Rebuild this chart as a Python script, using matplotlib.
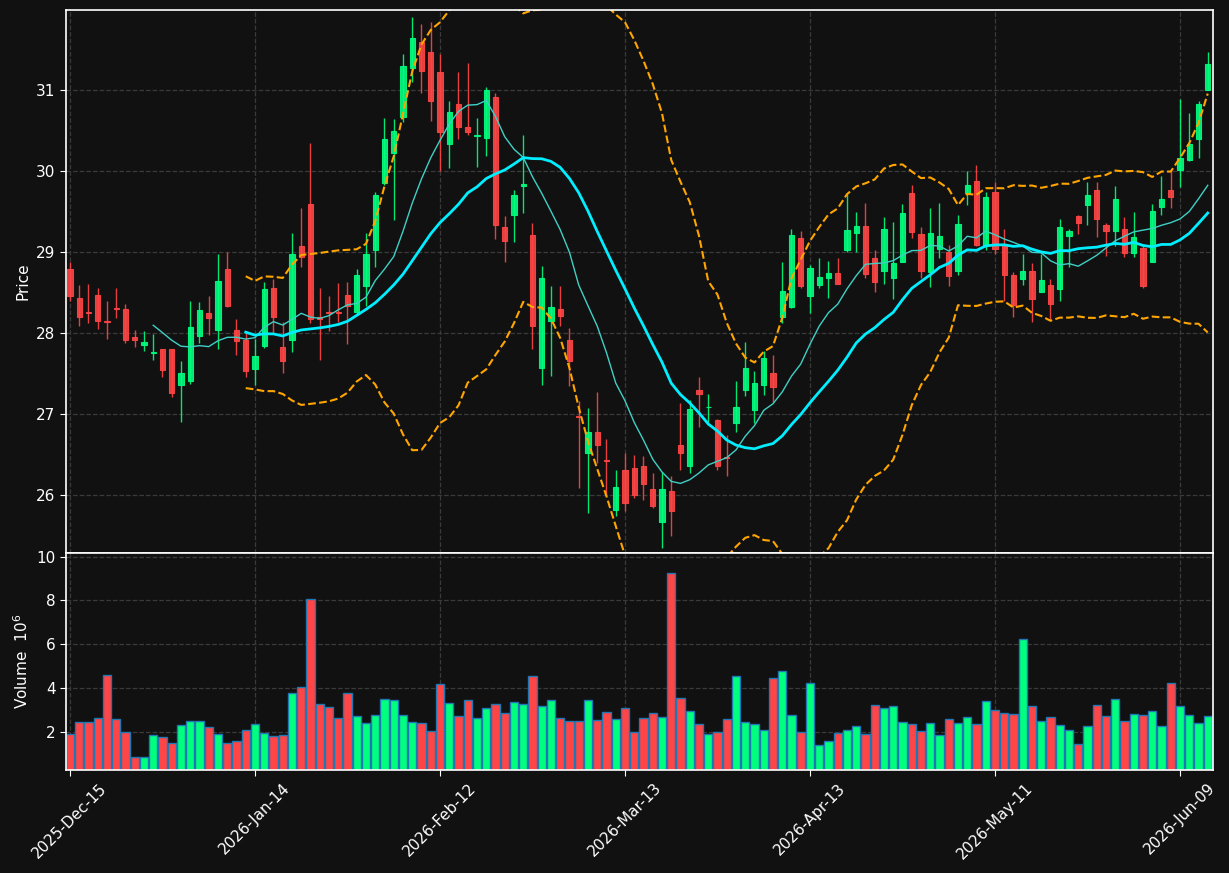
import numpy as np
import pandas as pd
import matplotlib
matplotlib.use('Agg')
import matplotlib.pyplot as plt

# daily OHLC
opens = [28.79, 28.43, 28.26, 28.47, 28.15, 28.31, 28.30, 27.95, 27.85, 27.75,
         27.80, 27.80, 27.36, 27.41, 27.96, 28.24, 28.04, 28.79, 28.04, 27.91,
         27.55, 27.84, 28.56, 27.82, 27.91, 29.07, 29.59, 28.20, 28.26, 28.26,
         28.47, 28.26, 28.58, 29.02, 29.85, 30.22, 30.67, 31.27, 31.59, 31.47,
         31.22, 30.33, 30.83, 30.54, 30.43, 30.41, 30.92, 29.31, 29.46, 29.81,
         29.21, 27.56, 28.15, 28.30, 27.91, 26.97, 26.52, 26.78, 26.43, 25.81,
         26.31, 26.33, 26.36, 26.07, 25.66, 26.04, 26.62, 26.36, 27.30, 27.08,
         26.92, 26.46, 26.89, 27.30, 27.05, 27.36, 27.51, 28.20, 28.32, 29.17,
         28.46, 28.59, 28.68, 28.74, 29.02, 29.23, 29.32, 28.93, 28.76, 28.68,
         28.88, 29.73, 29.22, 28.75, 29.04, 29.00, 28.76, 29.73, 29.88, 29.07,
         29.74, 29.09, 28.72, 28.67, 28.77, 28.51, 28.59, 28.54, 29.20, 29.44,
         29.58, 29.77, 29.33, 29.26, 29.28, 28.99, 29.05, 28.87, 29.56, 29.76,
         30.01, 30.14, 30.40, 31.00]
highs = [28.88, 28.59, 28.61, 28.55, 28.40, 28.55, 28.36, 28.03, 28.02, 27.98,
         27.80, 27.80, 27.65, 28.40, 28.38, 28.45, 28.98, 29.00, 28.17, 28.02,
         27.93, 28.63, 28.67, 28.14, 29.24, 29.54, 30.35, 28.55, 28.46, 28.62,
         28.63, 28.79, 29.23, 29.74, 30.66, 30.64, 31.45, 31.91, 31.82, 31.84,
         31.45, 30.87, 31.23, 31.34, 30.65, 31.04, 30.96, 29.45, 29.77, 30.45,
         29.36, 28.83, 28.58, 28.58, 28.06, 27.16, 27.07, 27.27, 26.69, 26.30,
         26.52, 26.49, 26.48, 26.27, 26.28, 26.23, 27.13, 27.17, 27.45, 27.25,
         26.93, 26.74, 27.40, 27.89, 27.53, 27.77, 27.73, 28.87, 29.29, 29.26,
         28.84, 28.92, 28.89, 28.92, 29.72, 29.50, 29.61, 29.02, 29.43, 29.37,
         29.59, 29.83, 29.31, 29.54, 29.61, 29.09, 29.46, 30.00, 30.07, 29.74,
         29.87, 29.28, 28.75, 28.97, 28.86, 28.97, 28.66, 29.41, 29.28, 29.46,
         29.86, 29.87, 29.36, 29.81, 29.43, 29.49, 29.07, 29.59, 29.94, 30.01,
         30.89, 30.72, 30.86, 31.47]
lows = [28.39, 28.08, 28.12, 28.05, 27.93, 28.18, 27.87, 27.83, 27.77, 27.67,
        27.45, 27.21, 26.90, 27.37, 27.87, 27.97, 27.80, 28.32, 27.73, 27.46,
        27.36, 27.81, 28.00, 27.51, 27.76, 28.81, 28.12, 27.67, 28.02, 28.13,
        27.86, 28.22, 28.33, 28.82, 29.83, 29.40, 30.61, 31.10, 30.96, 30.62,
        30.00, 30.04, 30.39, 30.44, 30.05, 30.18, 29.16, 28.87, 29.12, 29.48,
        27.80, 27.35, 27.47, 28.09, 27.34, 26.08, 25.78, 26.39, 26.00, 25.74,
        25.80, 25.96, 25.94, 25.83, 25.34, 25.49, 26.31, 26.27, 26.84, 26.90,
        26.31, 26.23, 26.78, 27.22, 26.88, 27.23, 27.15, 28.12, 28.31, 28.56,
        28.24, 28.56, 28.43, 28.61, 29.00, 29.00, 28.68, 28.50, 28.61, 28.42,
        28.88, 29.17, 28.68, 28.57, 28.92, 28.58, 28.72, 29.58, 29.07, 29.03,
        28.98, 28.39, 28.20, 28.59, 28.13, 28.51, 28.16, 28.39, 28.82, 29.22,
        29.33, 29.19, 28.95, 29.07, 28.94, 28.94, 28.55, 28.87, 29.46, 29.54,
        29.80, 30.13, 30.16, 31.00]
closes = [28.45, 28.20, 28.24, 28.15, 28.13, 28.30, 27.91, 27.91, 27.89, 27.76,
          27.54, 27.26, 27.50, 28.07, 28.28, 28.18, 28.64, 28.33, 27.90, 27.53,
          27.72, 28.54, 28.20, 27.65, 28.97, 28.94, 28.17, 28.17, 28.24, 28.25,
          28.33, 28.72, 28.97, 29.70, 30.39, 30.49, 31.30, 31.64, 31.24, 30.86,
          30.48, 30.73, 30.54, 30.48, 30.45, 31.00, 29.33, 29.13, 29.70, 29.84,
          28.09, 28.68, 28.32, 28.21, 27.65, 26.96, 26.77, 26.61, 26.42, 26.09,
          25.90, 26.00, 26.13, 25.86, 26.07, 25.80, 26.52, 27.06, 27.25, 27.09,
          26.35, 26.45, 27.08, 27.56, 27.38, 27.69, 27.33, 28.52, 29.21, 28.58,
          28.80, 28.69, 28.74, 28.61, 29.27, 29.32, 28.73, 28.63, 29.28, 28.86,
          29.48, 29.25, 28.76, 29.23, 29.20, 28.70, 29.35, 29.83, 29.09, 29.68,
          29.04, 28.72, 28.35, 28.77, 28.42, 28.65, 28.36, 29.31, 29.26, 29.36,
          29.70, 29.41, 29.26, 29.65, 28.99, 29.18, 28.58, 29.51, 29.66, 29.68,
          30.16, 30.33, 30.83, 31.32]
# volume in millions
volumes = [1.88, 2.43, 2.43, 2.61, 4.58, 2.56, 1.97, 0.83, 0.83, 1.83,
           1.74, 1.47, 2.29, 2.50, 2.50, 2.20, 1.88, 1.47, 1.56, 2.06,
           2.34, 1.92, 1.79, 1.83, 3.75, 4.03, 8.05, 3.25, 3.11, 2.61,
           3.75, 2.70, 2.38, 2.75, 3.48, 3.43, 2.75, 2.43, 2.38, 2.02,
           4.16, 3.30, 2.70, 3.43, 2.61, 3.07, 3.25, 2.84, 3.34, 3.25,
           4.53, 3.16, 3.43, 2.61, 2.47, 2.47, 3.43, 2.52, 2.88, 2.56,
           3.07, 1.97, 2.61, 2.84, 2.66, 9.24, 3.52, 2.93, 2.34, 1.88,
           1.97, 2.56, 4.53, 2.43, 2.34, 2.06, 4.44, 4.76, 2.75, 1.97,
           4.21, 1.37, 1.56, 1.92, 2.06, 2.24, 1.88, 3.20, 3.07, 3.16,
           2.43, 2.34, 2.02, 2.38, 1.83, 2.56, 2.38, 2.66, 2.34, 3.39,
           2.98, 2.84, 2.79, 6.22, 3.16, 2.47, 2.66, 2.29, 2.06, 1.42,
           2.24, 3.20, 2.70, 3.48, 2.47, 2.79, 2.75, 2.93, 2.24, 4.21,
           3.16, 2.75, 2.38, 2.70]
tick_labels = ['2025-Dec-15', '2026-Jan-14', '2026-Feb-12', '2026-Mar-13',
               '2026-Apr-13', '2026-May-11', '2026-Jun-09']

bg = '#111111'
up_col = '#00ff7f'
down_col = '#ff4545'

df = pd.DataFrame({'open': opens, 'high': highs, 'low': lows,
                   'close': closes, 'volume': volumes})
x = np.arange(len(df))
is_up = df['close'] >= df['open']
cols = np.where(is_up, up_col, down_col)

#moving averages + bollinger bands
ma10 = df['close'].rolling(10).mean()
ma20 = df['close'].rolling(20).mean()
sd20 = df['close'].rolling(20).std(ddof=0)
upper = ma20 + 2 * sd20
lower = ma20 - 2 * sd20

fig = plt.figure(figsize=(12.29, 8.73), dpi=100, facecolor=bg)
ax1 = fig.add_axes([0.0537, 0.3666, 0.9333, 0.6219])
ax2 = fig.add_axes([0.0537, 0.118, 0.9333, 0.2486], sharex=ax1)

for ax in (ax1, ax2):
    ax.set_facecolor(bg)
    for s in ax.spines.values():
        s.set_color('white')
        s.set_linewidth(1.2)
    ax.grid(True, color='#3a3a3a', linestyle='--', linewidth=0.9)
    ax.set_axisbelow(True)
    ax.tick_params(colors='white', labelsize=11, length=4)

# candles
ax1.vlines(x, df['low'], df['high'], colors=cols, linewidth=1, alpha=0.9)
body = (df['close'] - df['open']).abs()
ax1.bar(x, body, bottom=np.minimum(df['open'], df['close']), width=0.58,
        color=cols, edgecolor=cols, linewidth=0.8, alpha=0.9)

ax1.plot(x, ma10, color='#3fd0c6', linewidth=1)
ax1.plot(x, ma20, color='#00eeff', linewidth=2)
ax1.plot(x, upper, color='orange', linestyle='--', linewidth=1.5)
ax1.plot(x, lower, color='orange', linestyle='--', linewidth=1.5)

ax1.set_ylim(25.28, 31.99)
ax1.set_yticks([26, 27, 28, 29, 30, 31])
ax1.set_ylabel('Price', color='white', fontsize=11)
ax1.tick_params(axis='x', labelbottom=False, length=0)

# volume
ax2.bar(x, df['volume'], width=0.9, color=cols, edgecolor='#1f77b4',
        linewidth=1)
ax2.set_ylim(0.25, 10.17)
ax2.set_yticks([2, 4, 6, 8, 10])
ax2.set_ylabel('Volume  $10^6$', color='white', fontsize=11)

ax2.set_xlim(-0.43, len(df) - 0.43)
ax2.set_xticks(x[::20])
ax2.set_xticklabels(tick_labels, rotation=45)

fig.savefig('out.png', dpi=100, facecolor=bg)
